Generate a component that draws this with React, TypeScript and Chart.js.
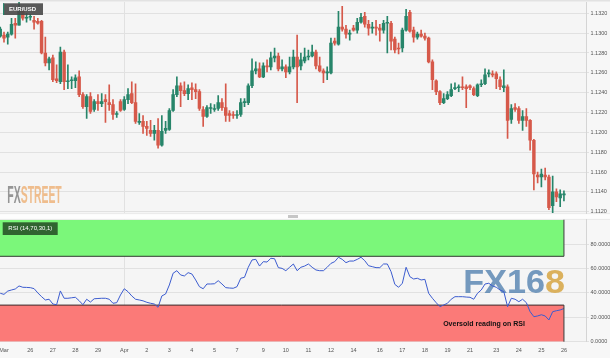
import React, { useEffect, useRef } from 'react';
import { Chart, registerables } from 'chart.js';
Chart.register(...registerables);

// ---- data (4h candles, EUR/USD) ----
const opens = [
  1.1297,1.1298,1.1296,1.1299,1.1310,1.1308,1.1322,1.1315,1.1316,1.1313,
  1.1312,1.1312,1.1280,1.1270,1.1275,1.1254,1.1251,1.1281,1.1251,1.1252,
  1.1252,1.1256,1.1238,1.1226,1.1236,1.1223,1.1231,1.1229,1.1233,1.1230,
  1.1228,1.1218,1.1231,1.1223,1.1233,1.1239,1.1230,1.1210,1.1211,1.1206,
  1.1202,1.1199,1.1202,1.1187,1.1202,1.1203,1.1222,1.1238,1.1247,1.1242,
  1.1239,1.1245,1.1243,1.1241,1.1223,1.1216,1.1224,1.1223,1.1224,1.1230,
  1.1225,1.1219,1.1218,1.1217,1.1218,1.1230,1.1230,1.1247,1.1262,1.1264,
  1.1256,1.1267,1.1266,1.1275,1.1277,1.1264,1.1266,1.1261,1.1266,1.1276,
  1.1267,1.1272,1.1276,1.1277,1.1281,1.1267,1.1262,1.1260,1.1260,1.1292,
  1.1289,1.1306,1.1304,1.1299,1.1305,1.1303,1.1311,1.1317,1.1309,1.1305,
  1.1306,1.1305,1.1303,1.1310,1.1310,1.1294,1.1285,1.1285,1.1303,1.1321,
  1.1303,1.1296,1.1299,1.1297,1.1295,1.1271,1.1252,1.1241,1.1230,1.1234,
  1.1237,1.1244,1.1245,1.1246,1.1246,1.1247,1.1244,1.1237,1.1248,1.1249,
  1.1259,1.1259,1.1259,1.1253,1.1245,1.1246,1.1213,1.1225,1.1224,1.1212,
  1.1216,1.1212,1.1192,1.1157,1.1155,1.1157,1.1155,1.1126,1.1140,1.1134,
  1.1137,
];
const highs = [
  1.1306,1.1301,1.1301,1.1315,1.1315,1.1332,1.1323,1.1320,1.1319,1.1317,
  1.1315,1.1313,1.1296,1.1276,1.1278,1.1268,1.1286,1.1283,1.1268,1.1256,
  1.1258,1.1262,1.1240,1.1238,1.1240,1.1233,1.1238,1.1239,1.1238,1.1248,
  1.1233,1.1221,1.1233,1.1236,1.1244,1.1251,1.1249,1.1219,1.1217,1.1211,
  1.1212,1.1207,1.1214,1.1217,1.1211,1.1224,1.1243,1.1256,1.1250,1.1251,
  1.1248,1.1250,1.1249,1.1243,1.1226,1.1227,1.1229,1.1228,1.1237,1.1234,
  1.1249,1.1222,1.1221,1.1222,1.1234,1.1234,1.1249,1.1274,1.1271,1.1270,
  1.1270,1.1273,1.1281,1.1285,1.1280,1.1273,1.1268,1.1276,1.1283,1.1298,
  1.1280,1.1285,1.1283,1.1288,1.1283,1.1276,1.1264,1.1266,1.1295,1.1295,
  1.1322,1.1327,1.1308,1.1303,1.1308,1.1315,1.1320,1.1321,1.1313,1.1311,
  1.1313,1.1309,1.1313,1.1317,1.1312,1.1296,1.1290,1.1305,1.1324,1.1323,
  1.1306,1.1301,1.1303,1.1300,1.1296,1.1273,1.1253,1.1242,1.1239,1.1241,
  1.1249,1.1250,1.1248,1.1256,1.1248,1.1248,1.1246,1.1249,1.1253,1.1264,
  1.1263,1.1262,1.1261,1.1256,1.1263,1.1248,1.1228,1.1229,1.1226,1.1222,
  1.1224,1.1213,1.1193,1.1160,1.1163,1.1164,1.1157,1.1156,1.1143,1.1142,
  1.1141,
];
const lows = [
  1.1296,1.1291,1.1289,1.1298,1.1295,1.1308,1.1313,1.1311,1.1313,1.1304,
  1.1309,1.1279,1.1267,1.1263,1.1251,1.1250,1.1249,1.1243,1.1244,1.1244,
  1.1245,1.1236,1.1224,1.1214,1.1219,1.1221,1.1222,1.1226,1.1210,1.1222,
  1.1213,1.1215,1.1221,1.1222,1.1229,1.1229,1.1209,1.1208,1.1199,1.1197,
  1.1196,1.1192,1.1184,1.1186,1.1199,1.1202,1.1221,1.1236,1.1226,1.1237,
  1.1233,1.1233,1.1234,1.1222,1.1206,1.1215,1.1219,1.1221,1.1222,1.1222,
  1.1211,1.1211,1.1214,1.1214,1.1216,1.1226,1.1228,1.1245,1.1259,1.1255,
  1.1255,1.1261,1.1263,1.1271,1.1262,1.1262,1.1255,1.1259,1.1264,1.1230,
  1.1263,1.1270,1.1273,1.1276,1.1264,1.1261,1.1250,1.1253,1.1259,1.1288,
  1.1288,1.1302,1.1295,1.1293,1.1302,1.1300,1.1310,1.1306,1.1298,1.1300,
  1.1298,1.1292,1.1300,1.1280,1.1283,1.1280,1.1279,1.1281,1.1302,1.1301,
  1.1291,1.1294,1.1296,1.1293,1.1270,1.1243,1.1238,1.1228,1.1229,1.1233,
  1.1236,1.1243,1.1241,1.1243,1.1225,1.1243,1.1237,1.1236,1.1246,1.1248,
  1.1256,1.1256,1.1244,1.1243,1.1241,1.1194,1.1209,1.1221,1.1209,1.1202,
  1.1206,1.1182,1.1142,1.1149,1.1145,1.1152,1.1122,1.1119,1.1130,1.1125,
  1.1131,
];
const closes = [
  1.1304,1.1295,1.1299,1.1309,1.1308,1.1322,1.1315,1.1316,1.1317,1.1311,
  1.1310,1.1280,1.1270,1.1274,1.1253,1.1252,1.1281,1.1251,1.1252,1.1253,
  1.1255,1.1238,1.1226,1.1236,1.1221,1.1231,1.1229,1.1231,1.1231,1.1228,
  1.1218,1.1219,1.1222,1.1233,1.1238,1.1230,1.1211,1.1211,1.1206,1.1204,
  1.1199,1.1202,1.1187,1.1201,1.1204,1.1222,1.1238,1.1247,1.1242,1.1239,
  1.1244,1.1243,1.1241,1.1224,1.1216,1.1225,1.1225,1.1224,1.1230,1.1225,
  1.1217,1.1217,1.1217,1.1218,1.1230,1.1231,1.1247,1.1262,1.1264,1.1256,
  1.1267,1.1266,1.1275,1.1277,1.1264,1.1266,1.1261,1.1266,1.1276,1.1266,
  1.1273,1.1276,1.1277,1.1281,1.1267,1.1262,1.1260,1.1261,1.1290,1.1290,
  1.1306,1.1304,1.1299,1.1300,1.1303,1.1311,1.1316,1.1309,1.1305,1.1306,
  1.1305,1.1303,1.1310,1.1311,1.1292,1.1283,1.1284,1.1303,1.1317,1.1302,
  1.1296,1.1299,1.1297,1.1295,1.1271,1.1253,1.1241,1.1230,1.1234,1.1238,
  1.1243,1.1245,1.1245,1.1245,1.1244,1.1245,1.1238,1.1248,1.1249,1.1258,
  1.1260,1.1258,1.1254,1.1246,1.1247,1.1212,1.1224,1.1223,1.1212,1.1216,
  1.1212,1.1192,1.1158,1.1155,1.1158,1.1155,1.1124,1.1140,1.1135,1.1138,
  1.1138,
];
const rsi = [
  39.7,38.8,41.5,42.4,43.2,45.7,44.6,44.5,44.3,43.5,
  40.0,36.9,34.2,34.8,30.9,30.3,41.6,35.6,35.6,36.0,
  36.4,33.6,30.3,34.8,32.5,35.2,35.4,35.6,35.6,34.8,
  31.5,32.0,38.3,43.4,41.0,37.5,34.8,34.2,33.5,32.3,
  31.5,30.9,28.2,37.5,39.1,46.5,56.1,58.2,54.7,53.9,
  56.6,55.5,50.6,45.1,43.4,47.3,47.3,47.5,50.0,47.3,
  44.3,44.0,43.8,45.1,52.0,52.8,61.0,67.0,67.5,62.0,
  65.6,65.3,68.4,68.0,60.7,60.1,58.2,61.0,63.7,58.2,
  61.0,62.0,63.7,61.0,58.8,58.2,58.2,61.0,64.2,65.6,
  69.2,67.5,64.8,66.1,66.1,67.5,69.2,66.4,62.3,61.5,
  60.7,60.7,63.7,63.7,57.4,47.0,44.6,47.9,61.0,53.3,
  51.4,52.0,50.6,51.1,39.7,35.6,32.0,28.7,30.1,31.5,
  34.8,36.9,36.9,36.9,36.6,36.4,34.8,39.7,42.4,47.3,
  47.9,45.7,44.6,42.4,41.0,28.7,35.6,34.8,32.8,34.8,
  32.0,24.6,20.5,21.1,22.1,21.1,17.8,24.6,25.4,26.0,
  27.2,
];
const tickIndex = [1,8,14,20,26,33,39,45,51,57,63,70,76,82,88,94,101,107,113,119,125,132,138,144,150];
const tickLabels = ['Mar','26','27','28','29','Apr','2','3','4','5','7','9','10','11','12','14','16','17','18','19','21','23','24','25','26'];
const monthStartIndex = 33;
const priceTicks = [1.112,1.114,1.116,1.118,1.12,1.122,1.124,1.126,1.128,1.13,1.132];
const rsiTicks = [0,20,40,60,80];
const overbought = 70;
const oversold = 30;
const PRICE_MIN = 1.11184;
const PRICE_MAX = 1.13314;
const X_MIN = -0.064;
const X_MAX = 155.87;

const GREEN = '#27856a';
const RED = '#d6594a';
const GRID = '#e1e1e1';
const LABEL = '#555555';
const FONT = 'Liberation Sans, Arial, sans-serif';

function scaledText(ctx: CanvasRenderingContext2D, text: string, x: number, baseY: number, width: number, font: string, color: string) {
  ctx.save();
  ctx.font = font;
  const w = ctx.measureText(text).width;
  ctx.translate(x, baseY);
  ctx.scale(width / w, 1);
  ctx.fillStyle = color;
  ctx.textAlign = 'left';
  ctx.textBaseline = 'alphabetic';
  ctx.fillText(text, 0, 0);
  ctx.restore();
}

export default function App() {
  const topRef = useRef<HTMLCanvasElement>(null);
  const botRef = useRef<HTMLCanvasElement>(null);

  useEffect(() => {
    const idx = opens.map((_, i) => i);
    const last = idx.length - 1;
    const candleColor = (c: any) => (closes[c.dataIndex] >= opens[c.dataIndex] ? GREEN : RED);

    const bgTop = {
      id: 'bgTop',
      beforeDraw(chart: any) {
        const { ctx, chartArea: a, width, height } = chart;
        ctx.save();
        ctx.fillStyle = '#f7f7f7';
        ctx.fillRect(0, 0, width, height);
        ctx.fillStyle = '#f5f5f5';
        ctx.fillRect(a.left, a.top, a.right - a.left, a.bottom - a.top);
        ctx.fillStyle = '#e2e2e2';
        ctx.fillRect(0, 0, width, 1.5);
        ctx.fillStyle = '#fdfdfd';
        ctx.fillRect(0, a.bottom, width, height - a.bottom);
        ctx.fillStyle = '#e4e4e4';
        ctx.fillRect(0, a.bottom, width, 0.8);
        ctx.restore();
      },
      beforeDatasetsDraw(chart: any) {
        const ctx = chart.ctx;
        scaledText(ctx, 'FX', 7.3, 202.7, 13.4, `bold 23px ${FONT}`, 'rgba(125,125,125,0.8)');
        scaledText(ctx, 'STREET', 20.7, 202.7, 41, `bold 23px ${FONT}`, 'rgba(236,170,105,0.75)');
      },
      afterDraw(chart: any) {
        const ctx = chart.ctx;
        ctx.save();
        ctx.fillStyle = 'rgba(72,72,72,0.9)';
        ctx.fillRect(3, 3.3, 40, 11.7);
        ctx.fillStyle = GREEN;
        ctx.fillRect(3, 3.3, 1.2, 11.7);
        ctx.fillStyle = '#ffffff';
        ctx.font = `bold 6px ${FONT}`;
        ctx.textBaseline = 'middle';
        ctx.textAlign = 'left';
        ctx.fillText('EUR/USD', 9, 9.4);
        ctx.restore();
      },
    };

    const top = new Chart(topRef.current as HTMLCanvasElement, {
      type: 'bar',
      data: {
        datasets: [
          {
            label: 'wick',
            data: idx.map((i) => ({ x: i, y: [lows[i], highs[i]] })) as any,
            backgroundColor: candleColor as any,
            barThickness: 1,
            grouped: false,
            order: 2,
          },
          {
            label: 'body',
            data: idx.map((i) => ({ x: i, y: [opens[i], closes[i]] })) as any,
            backgroundColor: candleColor as any,
            barThickness: 2.8,
            minBarLength: 1,
            grouped: false,
            order: 1,
          },
        ],
      },
      options: {
        responsive: false,
        animation: false,
        layout: { padding: { top: 2, bottom: 2.7, left: 0, right: 0 } },
        plugins: { legend: { display: false }, tooltip: { enabled: false } },
        scales: {
          x: {
            type: 'linear',
            min: X_MIN,
            max: X_MAX,
            offset: false,
            ticks: { display: false },
            grid: {
              offset: false,
              drawTicks: false,
              color: (c: any) => (c.tick && c.tick.value === monthStartIndex ? GRID : 'rgba(0,0,0,0)'),
            },
            border: { display: false },
            afterBuildTicks: (s: any) => { s.ticks = [{ value: monthStartIndex }]; },
            afterFit: (s: any) => { s.height = 0; s.paddingLeft = 0; s.paddingRight = 0; },
          },
          y: {
            position: 'right',
            min: PRICE_MIN,
            max: PRICE_MAX,
            afterBuildTicks: (s: any) => { s.ticks = priceTicks.map((v) => ({ value: v })); },
            ticks: {
              callback: (v: any) => Number(v).toFixed(4),
              font: { family: FONT, size: 5.5 },
              color: LABEL,
              padding: 1.5,
            },
            grid: { color: GRID, tickLength: 3 },
            border: { color: '#d4d4d4' },
            afterFit: (s: any) => { s.width = 24; s.paddingTop = 0; s.paddingBottom = 0; },
          },
        },
      } as any,
      plugins: [bgTop as any],
    });

    const bgBot = {
      id: 'bgBot',
      beforeDraw(chart: any) {
        const { ctx, chartArea: a, width, height } = chart;
        ctx.save();
        ctx.fillStyle = '#f7f7f7';
        ctx.fillRect(0, 0, width, height);
        ctx.fillStyle = '#f5f5f5';
        ctx.fillRect(a.left, a.top, a.right - a.left, a.bottom - a.top);
        ctx.fillStyle = '#fdfdfd';
        ctx.fillRect(0, 0, width, a.top);
        ctx.fillStyle = '#e4e4e4';
        ctx.fillRect(0, a.top - 0.8, width, 0.8);
        ctx.restore();
      },
      beforeDatasetsDraw(chart: any) {
        const ctx = chart.ctx;
        scaledText(ctx, 'FX16', 463.3, 76.7, 81.7, `bold 33px ${FONT}`, 'rgba(84,130,176,0.8)');
        scaledText(ctx, '8', 545, 76.7, 20, `bold 33px ${FONT}`, 'rgba(216,170,76,0.9)');
      },
      afterDatasetsDraw(chart: any) {
        const ctx = chart.ctx;
        const xs = chart.scales.x;
        const ys = chart.scales.y;
        const xr = xs.getPixelForValue(last);
        ctx.save();
        ctx.strokeStyle = '#3a3a3a';
        ctx.lineWidth = 1;
        ctx.beginPath();
        ctx.moveTo(xr, ys.getPixelForValue(100));
        ctx.lineTo(xr, ys.getPixelForValue(overbought));
        ctx.moveTo(xr, ys.getPixelForValue(oversold));
        ctx.lineTo(xr, ys.getPixelForValue(0));
        ctx.stroke();
        ctx.fillStyle = 'rgba(44,92,44,0.95)';
        ctx.fillRect(2.7, 6.3, 55, 12.7);
        ctx.fillStyle = '#ffffff';
        ctx.font = `6px ${FONT}`;
        ctx.textBaseline = 'middle';
        ctx.textAlign = 'left';
        ctx.fillText('RSI (14,70,30,1)', 8.3, 12.8);
        ctx.fillStyle = '#111111';
        ctx.font = `bold 7px ${FONT}`;
        ctx.textAlign = 'center';
        ctx.fillText('Oversold reading on RSI', 484, 108);
        ctx.restore();
      },
    };

    const bot = new Chart(botRef.current as HTMLCanvasElement, {
      type: 'line',
      data: {
        datasets: [
          {
            label: 'RSI',
            data: idx.map((i) => ({ x: i, y: rsi[i] })),
            borderColor: '#3c5ccf',
            borderWidth: 1,
            pointRadius: 0,
            fill: false,
            tension: 0,
            order: 0,
          },
          {
            label: 'overbought',
            data: [{ x: X_MIN - 1, y: overbought }, { x: last, y: overbought }],
            borderColor: '#2f3a2f',
            borderWidth: 1,
            backgroundColor: '#7bf77a',
            fill: 'end',
            pointRadius: 0,
            order: 2,
          },
          {
            label: 'oversold',
            data: [{ x: X_MIN - 1, y: oversold }, { x: last, y: oversold }],
            borderColor: '#3a2a2a',
            borderWidth: 1,
            backgroundColor: '#fb7a78',
            fill: 'start',
            pointRadius: 0,
            order: 3,
          },
        ],
      },
      options: {
        responsive: false,
        animation: false,
        layout: { padding: { top: 3.7, bottom: 0, left: 0, right: 0 } },
        plugins: { legend: { display: false }, tooltip: { enabled: false } },
        scales: {
          x: {
            type: 'linear',
            min: X_MIN,
            max: X_MAX,
            afterBuildTicks: (s: any) => { s.ticks = tickIndex.map((v) => ({ value: v })); },
            ticks: {
              autoSkip: false,
              maxRotation: 0,
              padding: 5,
              font: { family: FONT, size: 5.5 },
              color: LABEL,
              callback: (v: any) => {
                const k = tickIndex.indexOf(Number(v));
                return k >= 0 ? tickLabels[k] : '';
              },
            },
            grid: {
              drawTicks: false,
              color: (c: any) => (c.tick && c.tick.value === monthStartIndex ? GRID : 'rgba(0,0,0,0)'),
            },
            border: { display: false },
            afterFit: (s: any) => { s.height = 16.3; s.paddingLeft = 0; s.paddingRight = 0; },
          },
          y: {
            position: 'right',
            min: 0,
            max: 100,
            afterBuildTicks: (s: any) => { s.ticks = rsiTicks.map((v) => ({ value: v })); },
            ticks: {
              callback: (v: any) => Number(v).toFixed(4),
              font: { family: FONT, size: 5.5 },
              color: LABEL,
              padding: 1.5,
            },
            grid: { color: GRID, tickLength: 3 },
            border: { color: '#d4d4d4' },
            afterFit: (s: any) => { s.width = 24; s.paddingTop = 0; s.paddingBottom = 0; },
          },
        },
      } as any,
      plugins: [bgBot as any],
    });

    return () => {
      top.destroy();
      bot.destroy();
    };
  }, []);

  return (
    <div style={{ position: 'fixed', left: 0, top: 0, width: 610, height: 358, background: '#f7f7f7', overflow: 'hidden' }}>
      <canvas ref={topRef} width={610} height={216} style={{ position: 'absolute', left: 0, top: 0, width: 610, height: 216 }} />
      <canvas ref={botRef} width={610} height={142} style={{ position: 'absolute', left: 0, top: 216, width: 610, height: 142 }} />
      <div style={{ position: 'absolute', left: 288, top: 215, width: 10, height: 3, background: '#c6c6c6' }} />
    </div>
  );
}
